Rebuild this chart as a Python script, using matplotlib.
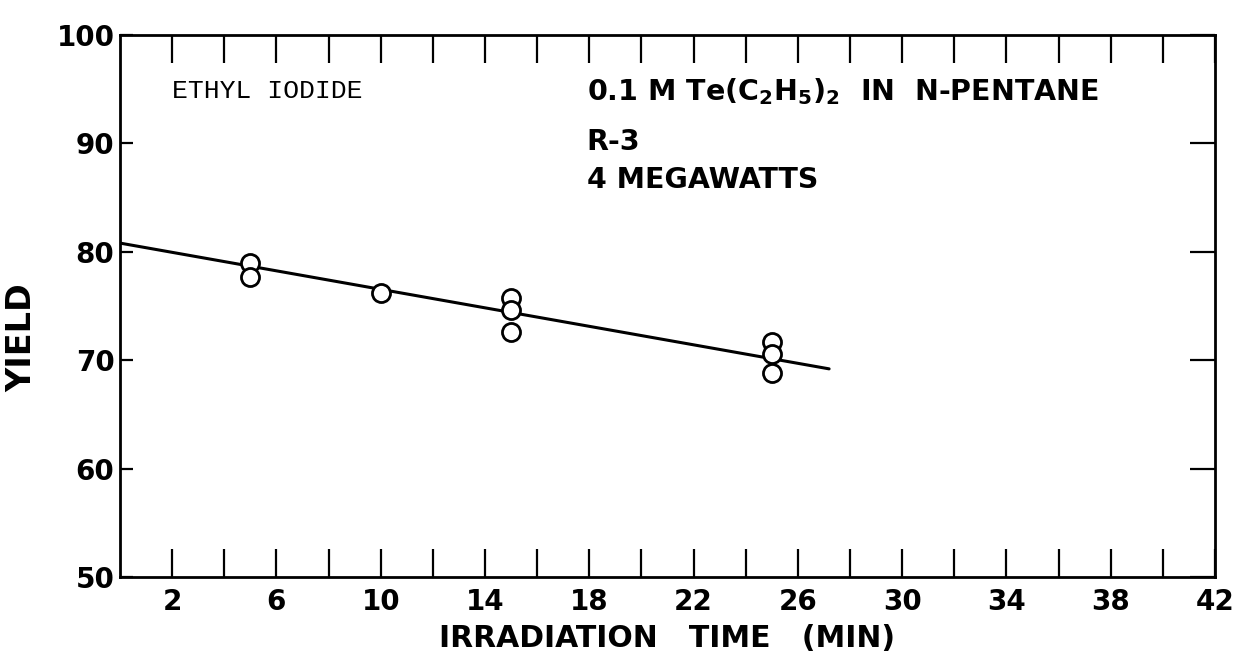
import matplotlib.pyplot as plt
import numpy as np

# ─── Data ──────────────────────────────────────────────────────────────────────
time_min = [5, 5, 10, 15, 15, 15, 25, 25, 25]
yield_pct = [79.0, 77.7, 76.2, 75.7, 74.6, 72.6, 71.7, 70.6, 68.8]

# hand-drawn fit line, end points
fit_x = [0.0, 27.2]
fit_y = [80.8, 69.2]

x_ticks = list(range(2, 43, 2))
x_labels = [str(t) if (t - 2) % 4 == 0 else "" for t in x_ticks]
y_ticks = [50, 60, 70, 80, 90, 100]

# ─── Figure ────────────────────────────────────────────────────────────────────
plt.rcParams['mathtext.fontset'] = 'dejavusans'
fig = plt.figure(figsize=(12.41, 6.59), dpi=100)
ax = fig.add_axes([0.0967, 0.1244, 0.8823, 0.8226])

ax.plot(fit_x, fit_y, color="black", lw=2.2, solid_capstyle="round")
ax.plot(time_min, yield_pct, ls="none", marker="o", ms=13, mfc="white",
        mec="black", mew=2.0)

ax.set_xlim(0, 42)
ax.set_ylim(50, 100)
ax.set_xticks(x_ticks)
ax.set_xticklabels(x_labels)
ax.set_yticks(y_ticks)

ax.tick_params(axis='x', direction='in', length=20, width=1.6,
               labelsize=20, top=True, pad=8)
ax.tick_params(axis='y', direction='in', length=9, width=1.6,
               labelsize=20, right=False, pad=4)
for lab in ax.get_xticklabels() + ax.get_yticklabels():
    lab.set_fontweight("bold")
for sp in ax.spines.values():
    sp.set_linewidth(2.0)

# longer ticks on the right-hand side
ax_r = ax.twinx()
ax_r.set_ylim(ax.get_ylim())
ax_r.set_yticks(y_ticks)
ax_r.set_yticklabels([])
ax_r.tick_params(axis='y', direction='in', length=18, width=1.6)
for sp in ax_r.spines.values():
    sp.set_visible(False)

ax.set_xlabel("IRRADIATION   TIME   (MIN)", fontsize=21.5, fontweight="bold",
              labelpad=6)
ax.set_ylabel("YIELD", fontsize=24, fontweight="bold")
ax.yaxis.set_label_coords(-0.075, 0.441)

# ─── Annotations ───────────────────────────────────────────────────────────────
ax.text(2.0, 94.8, "ETHYL IODIDE", family="Liberation Mono", fontsize=19,
        va="center", ha="left")
ax.text(17.9, 94.8,
        r"0.1 M Te(C$_\mathbf{2}$H$_\mathbf{5}$)$_\mathbf{2}$  IN  N-PENTANE",
        fontsize=20.5, fontweight="bold", va="center", ha="left")
ax.text(17.9, 90.1, "R-3", fontsize=20.5, fontweight="bold", va="center",
        ha="left")
ax.text(17.9, 86.6, "4 MEGAWATTS", fontsize=20.5, fontweight="bold",
        va="center", ha="left")

plt.savefig("out.png", dpi=100)
